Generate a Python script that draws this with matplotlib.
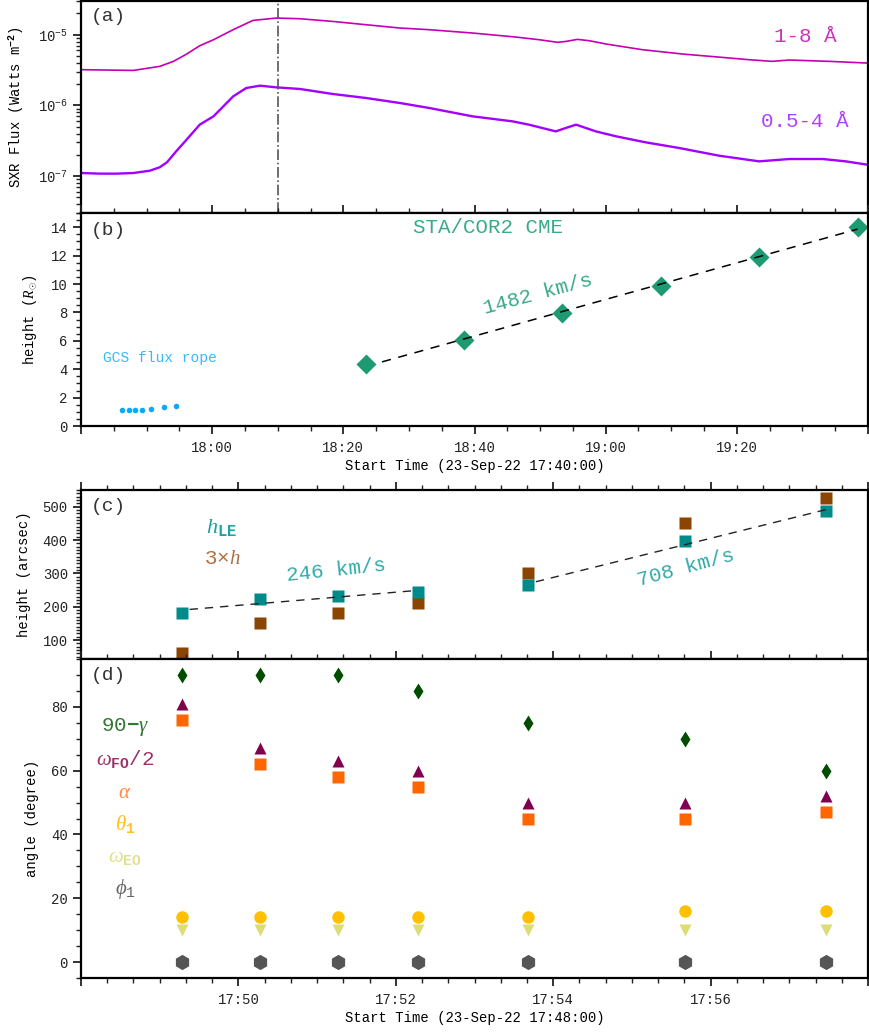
import matplotlib
matplotlib.use("Agg")
import matplotlib.pyplot as plt
import numpy as np
from matplotlib.ticker import MultipleLocator, FuncFormatter, FixedLocator, NullFormatter

plt.rcParams['font.family'] = ['Liberation Mono', 'DejaVu Sans Mono']
plt.rcParams['mathtext.fontset'] = 'custom'
plt.rcParams['mathtext.rm'] = 'Liberation Mono'
plt.rcParams['mathtext.it'] = 'Liberation Serif:italic'
plt.rcParams['mathtext.bf'] = 'Liberation Mono:bold'
plt.rcParams['axes.linewidth'] = 1.6

# ---- (a) GOES SXR flux, minutes after 17:40, log10(W m^-2)
t_long = [0.1, 8.0, 12.0, 14.1, 16.1, 18.1, 20.2, 23.2, 26.2, 29.8, 33.4, 38.4, 43.5,
          48.6, 53.1, 59.7, 66.3, 69.9, 72.7, 74.0, 75.7, 77.5, 80.1, 85.6, 91.7,
          97.8, 101.9, 105.4, 108.0, 114.1, 119.9]
lg_long = [-5.495, -5.505, -5.448, -5.377, -5.274, -5.156, -5.071, -4.929, -4.798, -4.764,
           -4.774, -4.812, -4.859, -4.905, -4.929, -4.976, -5.033, -5.071, -5.108, -5.094,
           -5.066, -5.085, -5.132, -5.212, -5.273, -5.321, -5.354, -5.377, -5.358, -5.377,
           -5.401]
t_short = [0.1, 2.9, 5.4, 8.0, 10.5, 12.0, 13.1, 14.6, 16.1, 18.1, 20.2, 21.7, 23.2, 25.2,
           27.3, 29.8, 33.4, 38.4, 43.5, 48.6, 53.1, 59.7, 65.8, 68.3, 72.4, 73.9, 75.5,
           78.5, 81.6, 86.1, 91.2, 97.3, 103.4, 108.0, 113.1, 116.6, 119.9]
lg_short = [-6.957, -6.966, -6.966, -6.957, -6.924, -6.876, -6.806, -6.641, -6.485, -6.273,
            -6.155, -6.014, -5.873, -5.754, -5.721, -5.745, -5.768, -5.839, -5.896, -5.966,
            -6.037, -6.155, -6.226, -6.273, -6.368, -6.320, -6.273, -6.368, -6.438, -6.523,
            -6.603, -6.712, -6.792, -6.759, -6.759, -6.792, -6.839]
t_peak = 30.0
flux_decades = [-8, -7, -6, -5]

# ---- (b) heights in solar radii
t_gcs = [6.3, 7.3, 8.3, 9.3, 10.7, 12.6, 14.5]
h_gcs = [1.1, 1.16, 1.16, 1.16, 1.19, 1.33, 1.43]
t_cor2 = [43.4, 58.4, 73.4, 88.4, 103.4, 118.4]
h_cor2 = [4.34, 6.07, 7.98, 9.88, 11.9, 14.0]

# ---- (c), (d) minutes after 17:48
t_aia = [1.28, 2.28, 3.27, 4.28, 5.68, 7.67, 9.47]
h_le = [180, 223, 231, 243, 264, 396, 486]
h3 = [60, 150, 180, 210, 300, 450, 525]
gamma90 = [90, 90, 90, 85, 75, 70, 60]
omega_fo2 = [81, 67, 63, 60, 50, 50, 52]
alpha = [76, 62, 58, 55, 45, 45, 47]
theta1 = [14, 14, 14, 14, 14, 16, 16]
omega_eo = [10, 10, 10, 10, 10, 10, 10]
phi1 = [0, 0, 0, 0, 0, 0, 0]

fig = plt.figure(figsize=(8.69, 10.36), dpi=100)
W = 787 / 869
axa = fig.add_axes([81 / 869, 1 - 213 / 1036, W, 212 / 1036])
axb = fig.add_axes([81 / 869, 1 - 426 / 1036, W, 213 / 1036])
axc = fig.add_axes([81 / 869, 1 - 659 / 1036, W, 169 / 1036])
axd = fig.add_axes([81 / 869, 1 - 978 / 1036, W, 319 / 1036])
axa.set_yscale('log')


def hhmm(base_h, base_m, vmax):
    def f(v, pos):
        if v <= 0.01 or v >= vmax - 0.01:
            return ''
        tot = base_h * 60 + base_m + int(round(v))
        return "%02d:%02d" % (tot // 60, tot % 60)
    return FuncFormatter(f)


for ax in (axa, axb, axc, axd):
    ax.tick_params(which='both', direction='out', labelsize=10, top=True, right=True,
                   colors='#222222')
    ax.tick_params(which='major', length=6, width=1.3)
    ax.tick_params(which='minor', length=3.5, width=1.0)
    ax.tick_params(axis='x', pad=5)

# (a)
axa.plot(t_long, 10 ** np.array(lg_long), color='#c400b4', lw=1.2)
axa.plot(t_short, 10 ** np.array(lg_short), color='#a300ff', lw=1.7)
axa.axvline(t_peak, color='#555555', lw=1.2, ls='-.')
axa.set_ylim(3e-8, 3e-5)
axa.set_xlim(0, 120)
axa.xaxis.set_major_locator(MultipleLocator(20))
axa.xaxis.set_minor_locator(MultipleLocator(5))
axa.yaxis.set_minor_locator(FixedLocator([k * 10.0 ** e for e in flux_decades for k in range(2, 10)]))
axa.yaxis.set_minor_formatter(NullFormatter())
axa.tick_params(labelbottom=False)
axa.set_ylabel(r'SXR Flux (Watts m$^{\mathbf{-2}}$)', fontsize=10)
axa.yaxis.set_label_coords(-0.070, 0.5)
axa.text(0.012, 0.925, '(a)', transform=axa.transAxes, fontsize=14, color='#333333',
         va='center', ha='left')
axa.text(110.5, 10 ** -5.03, '1-8 Å', color='#cc33bb', fontsize=15, ha='center', va='center')
axa.text(110.3, 10 ** -6.23, '0.5-4 Å', color='#b040ff', fontsize=15, ha='center', va='center')

# (b)
axb.plot(t_gcs, h_gcs, 'o', color='#0aa8ff', ms=4, mec='none')
axb.plot(t_cor2, h_cor2, 'D', color='#1d9a72', ms=10, mec='none')
pb = np.polyfit(t_cor2, h_cor2, 1)
xb = np.array([t_cor2[0] + 2.5, t_cor2[-1]])
axb.plot(xb, np.polyval(pb, xb), '--', color='black', lw=1.1, dashes=(6, 5))
axb.set_xlim(0, 120)
axb.set_ylim(0, 15)
axb.xaxis.set_major_locator(MultipleLocator(20))
axb.xaxis.set_minor_locator(MultipleLocator(5))
axb.xaxis.set_major_formatter(hhmm(17, 40, 120))
axb.yaxis.set_major_locator(MultipleLocator(2))
axb.yaxis.set_minor_locator(MultipleLocator(0.5))
axb.set_ylabel(r'height ($R_{\odot}$)', fontsize=10)
axb.yaxis.set_label_coords(-0.053, 0.5)
axb.set_xlabel('Start Time (23-Sep-22 17:40:00)', fontsize=10, labelpad=3)
axb.text(0.012, 0.917, '(b)', transform=axb.transAxes, fontsize=14, color='#333333',
         va='center', ha='left')
axb.text(62.0, 14.0, 'STA/COR2 CME', color='#3aaa88', fontsize=15, ha='center', va='center')
axb.text(69.7, 9.3, '1482 km/s', color='#3aaa88', fontsize=15, ha='center', va='center',
         rotation=15)
axb.text(12.1, 4.76, 'GCS flux rope', color='#33bbff', fontsize=10.5, ha='center', va='center')

# (c)
axc.plot(t_aia, h3, 's', color='#8b4500', ms=8.5, mec='none')
axc.plot(t_aia, h_le, 's', color='#008b8b', ms=8.5, mec='none')
p1 = np.polyfit(t_aia[:4], h_le[:4], 1)
p2 = np.polyfit(t_aia[4:], h_le[4:], 1)
x1 = np.array([t_aia[0] + 0.1, t_aia[3]])
x2 = np.array([t_aia[4] + 0.1, t_aia[6]])
axc.plot(x1, np.polyval(p1, x1), '--', color='#222222', lw=1.0, dashes=(6, 5))
axc.plot(x2, np.polyval(p2, x2), '--', color='#222222', lw=1.0, dashes=(6, 5))
axc.set_xlim(0, 10)
axc.set_ylim(43, 550)
axc.xaxis.set_major_locator(MultipleLocator(2))
axc.xaxis.set_minor_locator(MultipleLocator(1 / 3))
axc.tick_params(labelbottom=False)
axc.yaxis.set_major_locator(MultipleLocator(100))
axc.yaxis.set_minor_locator(MultipleLocator(10))
axc.set_ylabel('height (arcsec)', fontsize=10)
axc.yaxis.set_label_coords(-0.0635, 0.5)
axc.text(0.012, 0.905, '(c)', transform=axc.transAxes, fontsize=14, color='#333333',
         va='center', ha='left')
axc.text(1.79, 439, r'$h_{\mathbf{LE}}$', color='#20a0a0', fontsize=16, ha='center', va='center')
axc.text(1.79, 346, r'3$\times h$', color='#b07040', fontsize=15, ha='center', va='center')
axc.text(3.24, 308, '246 km/s', color='#33aaaa', fontsize=15, ha='center', va='center',
         rotation=6)
axc.text(7.69, 316, '708 km/s', color='#33aaaa', fontsize=15, ha='center', va='center',
         rotation=15)

# (d)
axd.plot(t_aia, gamma90, 'd', color='#004d00', ms=8.5, mec='none')
axd.plot(t_aia, omega_fo2, '^', color='#800050', ms=9, mec='none')
axd.plot(t_aia, alpha, 's', color='#ff6600', ms=8, mec='none')
axd.plot(t_aia, theta1, 'o', color='#ffc000', ms=9, mec='none')
axd.plot(t_aia, omega_eo, 'v', color='#dddd77', ms=9, mec='none')
axd.plot(t_aia, phi1, 'h', color='#555555', ms=11, mec='none')
axd.set_xlim(0, 10)
axd.set_ylim(-5, 95)
axd.xaxis.set_major_locator(MultipleLocator(2))
axd.xaxis.set_minor_locator(MultipleLocator(1 / 3))
axd.xaxis.set_major_formatter(hhmm(17, 48, 10))
axd.yaxis.set_major_locator(MultipleLocator(20))
axd.yaxis.set_minor_locator(MultipleLocator(5))
axd.set_ylabel('angle (degree)', fontsize=10)
axd.yaxis.set_label_coords(-0.053, 0.5)
axd.set_xlabel('Start Time (23-Sep-22 17:48:00)', fontsize=10, labelpad=3)
axd.text(0.012, 0.948, '(d)', transform=axd.transAxes, fontsize=14, color='#333333',
         va='center', ha='left')
lx = 0.56
axd.text(lx, 73.7, r'90$\mathbf{-}\gamma$', color='#337733', fontsize=15, ha='center', va='center')
axd.text(lx, 63.6, r'$\omega_{\mathbf{FO}}$/2', color='#993366', fontsize=15, ha='center', va='center')
axd.text(lx, 53.2, r'$\alpha$', color='#ff8844', fontsize=15, ha='center', va='center')
axd.text(lx, 43.2, r'$\theta_{\mathbf{1}}$', color='#ffc020', fontsize=15, ha='center', va='center')
axd.text(lx, 32.8, r'$\omega_{\mathbf{EO}}$', color='#e0e090', fontsize=15, ha='center', va='center')
axd.text(lx, 22.8, r'$\phi_{1}$', color='#666666', fontsize=15, ha='center', va='center')

fig.savefig('out.png', dpi=100)
